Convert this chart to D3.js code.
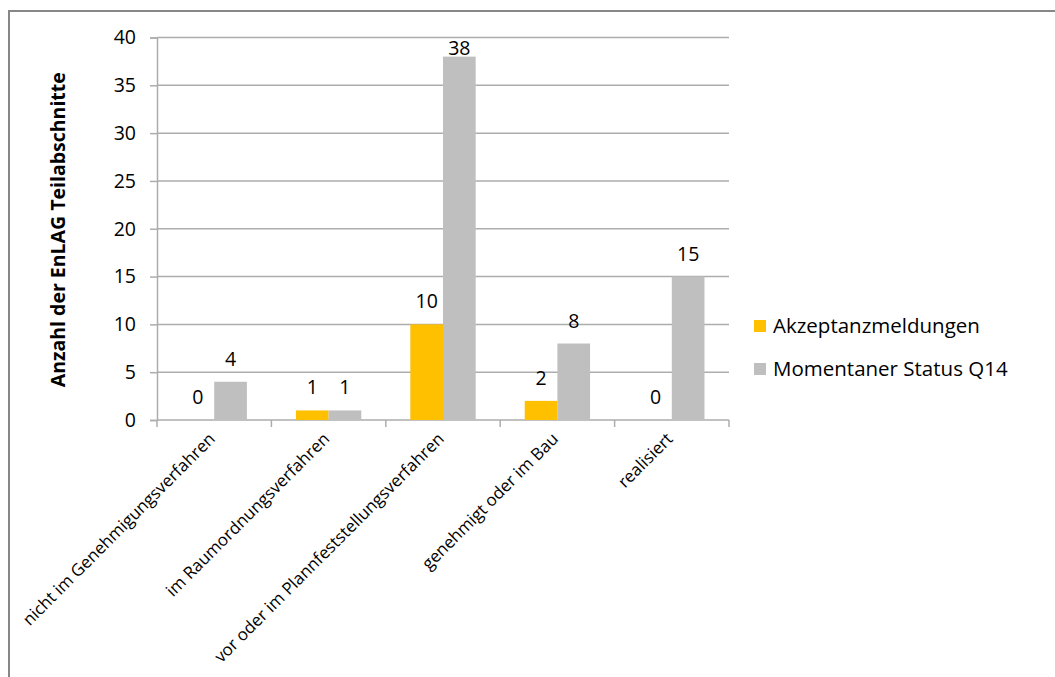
<!DOCTYPE html>
<html>
<head>
<meta charset="utf-8">
<script src="https://cdn.jsdelivr.net/npm/d3@7"></script>
<style>
  html, body { margin: 0; padding: 0; background: #fff; }
  svg { display: block; }
  text { font-family: "Open Sans", sans-serif; fill: #000; }
</style>
</head>
<body>
<svg id="chart" width="1055" height="677"></svg>
<script>
// Verfahrensstand der EnLAG-Teilabschnitte
const categories = [
  "nicht im Genehmigungsverfahren",
  "im Raumordnungsverfahren",
  "vor oder im Plannfeststellungsverfahren",
  "genehmigt oder im Bau",
  "realisiert"
];
const seriesNames = ["Akzeptanzmeldungen", "Momentaner Status Q14"];
const akzeptanz = [0, 1, 10, 2, 0];
const statusQ14 = [4, 1, 38, 8, 15];
const yTicks = [0, 5, 10, 15, 20, 25, 30, 35, 40];
const colors = ["#FFC000", "#BFBFBF"];
const yTitle = "Anzahl der EnLAG Teilabschnitte";

const svg = d3.select("#chart");
const W = 1055, H = 677;

// outer chart frame
svg.append("rect")
  .attr("x", 9).attr("y", 11)
  .attr("width", W + 20).attr("height", H + 20)
  .attr("fill", "#fff").attr("stroke", "#878787").attr("stroke-width", 2);

const plot = { left: 157, right: 729, top: 37.5, bottom: 420 };

const x = d3.scaleBand().domain(categories).range([plot.left, plot.right]).paddingInner(0).paddingOuter(0);
const xSub = d3.scaleBand().domain([0, 1]).range([0, x.bandwidth()]).paddingInner(0).paddingOuter(0.75);
const y = d3.scaleLinear().domain([0, 40]).range([plot.bottom, plot.top]);

const gridColor = "#ADADAD";

// y axis
const yAxis = d3.axisLeft(y).tickValues(yTicks).tickSize(7).tickPadding(14).tickFormat(d3.format("d"));
const gy = svg.append("g").attr("transform", `translate(${plot.left},0)`).call(yAxis);
gy.select(".domain").attr("stroke", gridColor).attr("stroke-width", 1.5);
gy.selectAll(".tick line").attr("stroke", gridColor).attr("stroke-width", 1.5);
gy.selectAll(".tick text").attr("font-size", 19.5).style("font-family", "'Open Sans', sans-serif").attr("fill", "#000");

// horizontal gridlines
svg.append("g").selectAll("line").data(yTicks.filter(d => d > 0)).join("line")
  .attr("x1", plot.left).attr("x2", plot.right)
  .attr("y1", d => y(d)).attr("y2", d => y(d))
  .attr("stroke", gridColor).attr("stroke-width", 1.5);

// x axis with ticks at category boundaries
const gx = svg.append("g");
gx.append("line").attr("x1", plot.left).attr("x2", plot.right)
  .attr("y1", plot.bottom).attr("y2", plot.bottom)
  .attr("stroke", gridColor).attr("stroke-width", 1.5);
const boundaries = categories.map(c => x(c)).concat([x(categories[categories.length - 1]) + x.bandwidth()]);
gx.selectAll("line.tk").data(boundaries).join("line").attr("class", "tk")
  .attr("x1", d => d).attr("x2", d => d)
  .attr("y1", plot.bottom).attr("y2", plot.bottom + 7)
  .attr("stroke", gridColor).attr("stroke-width", 1.5);

// rotated category labels
gx.selectAll("text").data(categories).join("text")
  .attr("transform", d => `translate(${x(d) + x.bandwidth() / 2 + 2},${plot.bottom + 20}) rotate(-45)`)
  .attr("text-anchor", "end")
  .attr("font-size", 16.9)
  .text(d => d);

// bars and value labels
const series = [akzeptanz, statusQ14];
series.forEach((vals, si) => {
  const g = svg.append("g");
  g.selectAll("rect").data(vals).join("rect")
    .attr("x", (d, i) => x(categories[i]) + xSub(si))
    .attr("y", d => y(d))
    .attr("width", xSub.bandwidth())
    .attr("height", d => y(0) - y(d))
    .attr("fill", colors[si]);
  g.selectAll("text").data(vals).join("text")
    .attr("x", (d, i) => x(categories[i]) + xSub(si) + xSub.bandwidth() / 2)
    .attr("y", d => Math.max(y(d) - 16, plot.top + 17))
    .attr("text-anchor", "middle")
    .attr("font-size", 19.5)
    .text(d => d);
});

// y axis title
svg.append("text")
  .attr("transform", `translate(65,${(plot.top + plot.bottom) / 2 + 1}) rotate(-90)`)
  .attr("text-anchor", "middle")
  .attr("font-size", 19.5)
  .attr("font-weight", "bold")
  .text(yTitle);

// legend
const legend = svg.append("g").attr("transform", "translate(754,320)");
seriesNames.forEach((name, i) => {
  const row = legend.append("g").attr("transform", `translate(0,${i * 43})`);
  row.append("rect").attr("width", 12).attr("height", 12).attr("fill", colors[i]);
  row.append("text").attr("x", 19).attr("y", 6).attr("dy", "0.35em")
    .attr("font-size", 20.5).text(name);
});
</script>
</body>
</html>
